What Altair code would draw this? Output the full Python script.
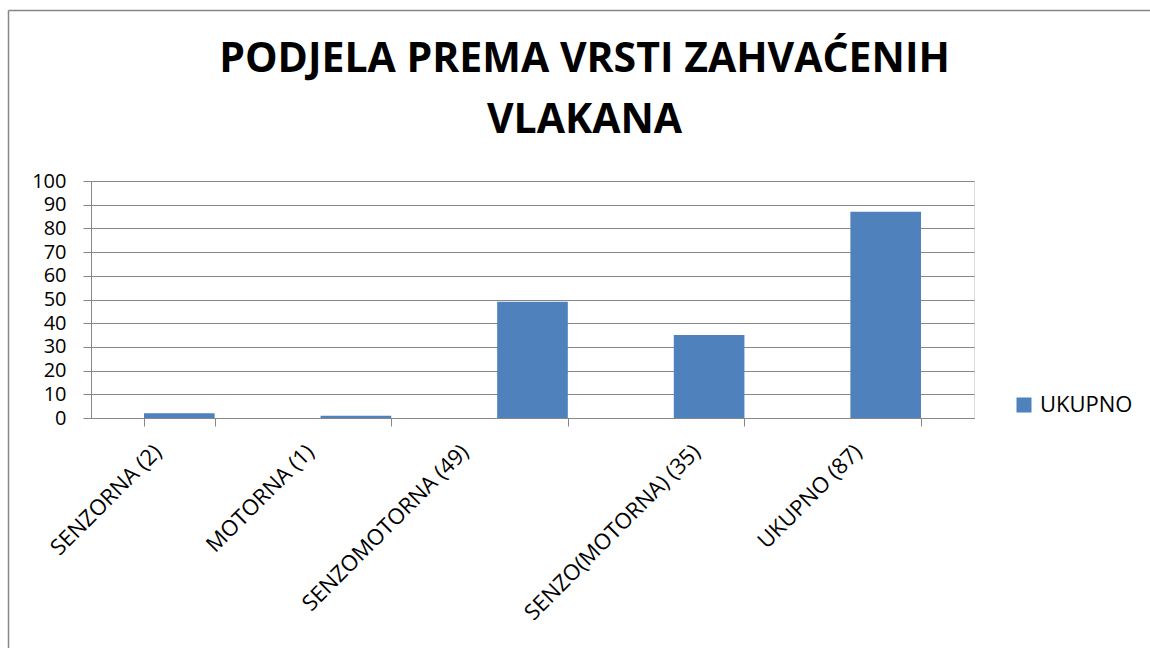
import altair as alt
import pandas as pd

categories = ["SENZORNA (2)", "MOTORNA (1)", "SENZOMOTORNA (49)", "SENZO(MOTORNA) (35)", "UKUPNO (87)"]
values = [2, 1, 49, 35, 87]
series = ["UKUPNO"] * 5
y_ticks = [0, 10, 20, 30, 40, 50, 60, 70, 80, 90, 100]
title_lines = ["PODJELA PREMA VRSTI ZAHVAĆENIH", "VLAKANA"]

df = pd.DataFrame({"cat": categories, "val": values, "series": series})

FONT = "Open Sans"
GRAY = "#878787"
W, H = 883, 237
PL, PT = 91, 181

# per-label horizontal nudges (styling only), as in the reference rendering
label_nudge = {"MOTORNA (1)": -46, "SENZOMOTORNA (49)": -68,
               "SENZO(MOTORNA) (35)": -13, "UKUPNO (87)": -28}
label_offset = {
    "condition": [{"test": f"datum.value === '{k}'", "value": v} for k, v in label_nudge.items()],
    "value": -22,
}

bars = alt.Chart(df).mark_bar(color="#4F81BD").encode(
    x=alt.X("cat:N", sort=categories, title=None,
            scale=alt.Scale(paddingInner=0.6, paddingOuter=0.3),
            axis=alt.Axis(labelAngle=-45, labelFontSize=22, labelFont=FONT, labelColor="black",
                          labelAlign="right", labelBaseline="middle", labelOffset=label_offset,
                          tickBand="extent", tickSize=8, tickColor=GRAY, domainColor=GRAY,
                          labelPadding=22, grid=False, labelLimit=400)),
    y=alt.Y("val:Q", title=None, scale=alt.Scale(domain=[0, 100], nice=False),
            axis=alt.Axis(values=y_ticks, labelFontSize=20, labelFont=FONT, labelColor="black",
                          tickSize=8, tickColor=GRAY, domainColor=GRAY, gridColor=GRAY,
                          gridOpacity=1, labelPadding=17)),
    color=alt.Color("series:N", scale=alt.Scale(domain=["UKUPNO"], range=["#4F81BD"]),
                    legend=alt.Legend(orient="none", legendX=922, legendY=213, title=None,
                                      symbolType="square", symbolSize=225, symbolStrokeWidth=0,
                                      labelFontSize=22, labelFont=FONT, labelColor="black",
                                      labelOffset=5, padding=0)),
)

frame_data = alt.Data(values=[{"k": 1}])
top_line = alt.Chart(frame_data).mark_rule(color=GRAY, strokeWidth=1.5).encode(
    x=alt.value(-82.5), x2=alt.value(1100), y=alt.value(-170.5))
left_line = alt.Chart(frame_data).mark_rule(color=GRAY, strokeWidth=1.5).encode(
    x=alt.value(-82.5), y=alt.value(-170.5), y2=alt.value(500))

chart = alt.layer(bars, top_line, left_line).properties(
    width=W, height=H,
    title=alt.Title(title_lines, font=FONT, fontSize=41, fontWeight="bold", color="black",
                    lineHeight=61, dx=52, dy=164, offset=0, anchor="middle", frame="group",
                    baseline="alphabetic"),
    autosize=alt.AutoSizeParams(type="none"),
    padding={"left": PL, "top": PT, "right": 1150 - PL - W, "bottom": 648 - PT - H},
).configure_view(stroke=None).configure(background="white")

chart.save("out.html", embed_options={"renderer": "svg", "actions": False})
